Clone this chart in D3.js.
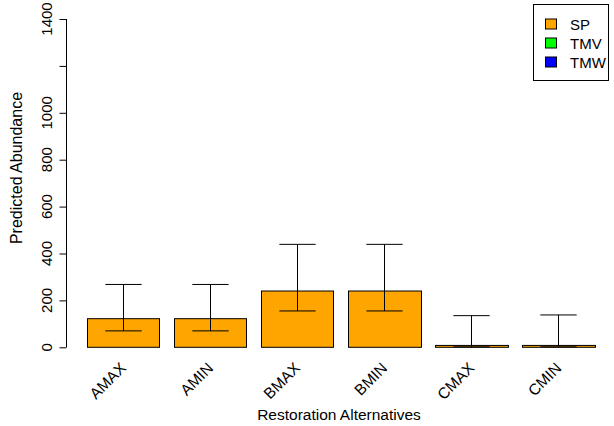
<!DOCTYPE html>
<html><head><meta charset="utf-8">
<script src="https://cdn.jsdelivr.net/npm/d3@7"></script>
<style>body{margin:0;background:#fff}svg{display:block}text{font-family:"Liberation Sans",Arial,sans-serif;fill:#000}</style>
</head><body>
<script>
const categories = ["AMAX","AMIN","BMAX","BMIN","CMAX","CMIN"];
const spValues = [122,122,240,240,8,8];
const errLower = [70,70,155,155,2,2];
const errUpper = [268,268,439,439,135,138];
const yTicks = [0,200,400,600,800,1000,1200,1400];
const yTickLabels = ["0","200","400","600","800","1000","","1400"];
const legendLabels = ["SP","TMV","TMW"];
const legendColors = ["#FFA500","#00FF00","#0000FF"];

const W=614,H=426;
const svg=d3.select("body").append("svg").attr("width",W).attr("height",H);
const x=d3.scaleLinear().domain([-0.08,7.48]).range([66.4,615]);
const y=d3.scaleLinear().domain([0,1400]).range([347.3,19]);
const barLeft=i=>0.2+1.2*i;

// bars
svg.selectAll("rect.bar").data(spValues).enter().append("rect")
 .attr("x",(d,i)=>Math.round(x(barLeft(i)))+0.5)
 .attr("width",(d,i)=>Math.round(x(barLeft(i)+1))-Math.round(x(barLeft(i))))
 .attr("y",d=>y(d)).attr("height",d=>y(0)-y(d))
 .attr("fill",legendColors[0]).attr("stroke","#000").attr("stroke-width",1);

// error bars
const eg=svg.append("g").attr("stroke","#000").attr("stroke-width",1);
categories.forEach((c,i)=>{
  const cx=Math.round(x(barLeft(i)+0.5))+0.5;
  const hw=x(0.25)-x(0);
  eg.append("line").attr("x1",cx).attr("x2",cx).attr("y1",y(errLower[i])).attr("y2",y(errUpper[i]));
  eg.append("line").attr("x1",cx-hw).attr("x2",cx+hw).attr("y1",y(errUpper[i])).attr("y2",y(errUpper[i]));
  eg.append("line").attr("x1",cx-hw).attr("x2",cx+hw).attr("y1",y(errLower[i])).attr("y2",y(errLower[i]));
});

// y axis
const ax=d3.axisLeft(y).tickValues(yTicks).tickSize(7).tickFormat("");
const ag=svg.append("g").attr("transform","translate(66.5,0)").call(ax);
ag.select(".domain").attr("d",`M0,${y(0)}V${y(1400)}`).attr("stroke","#000");
ag.selectAll(".tick line").attr("stroke","#000");
yTicks.forEach((t,i)=>{
  svg.append("text").attr("transform",`translate(52,${y(t)}) rotate(-90)`)
   .attr("text-anchor","middle").attr("font-size","15px").text(yTickLabels[i]);
});

// x labels
categories.forEach((c,i)=>{
  const cx=x(barLeft(i)+0.5);
  svg.append("text").attr("transform",`translate(${cx+4},${369}) rotate(-45)`)
   .attr("text-anchor","end").attr("font-size","15.5px").text(c);
});

// titles
svg.append("text").attr("x",339).attr("y",420).attr("text-anchor","middle").attr("font-size","15.5px").text("Restoration Alternatives");
svg.append("text").attr("transform",`translate(22,168) rotate(-90)`).attr("text-anchor","middle").attr("font-size","16px").text("Predicted Abundance");

// legend
const lg=svg.append("g");
lg.append("rect").attr("x",533.5).attr("y",4.5).attr("width",75).attr("height",76).attr("fill","#fff").attr("stroke","#000");
legendLabels.forEach((l,i)=>{
  const cy=24+19*i;
  lg.append("rect").attr("x",545.5).attr("y",cy-5).attr("width",11).attr("height",10).attr("fill",legendColors[i]).attr("stroke","#000");
  lg.append("text").attr("x",570).attr("y",cy+5.5).attr("font-size","15px").text(l);
});
</script>
</body></html>
